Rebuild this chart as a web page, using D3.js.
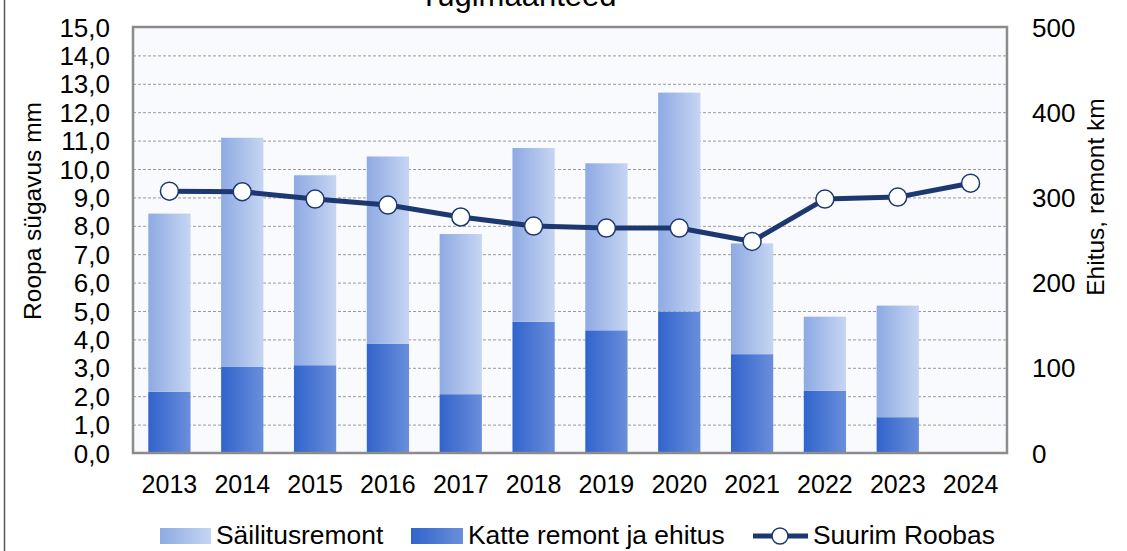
<!DOCTYPE html>
<html><head><meta charset="utf-8">
<script src="https://cdn.jsdelivr.net/npm/d3@7"></script>
<style>body{margin:0;background:#fff}svg{display:block}text{font-family:"Liberation Sans",Arial,sans-serif;fill:#000}</style>
</head><body>
<svg id="c" width="1127" height="551"></svg>
<script>
const years = ["2013","2014","2015","2016","2017","2018","2019","2020","2021","2022","2023","2024"];
const sailitus = [209,269,223,220,188,204,196,257,130,87,131,0];
const katte = [72,101,103,128,69,154,144,166,116,73,42,0];
const roobas = [9.22,9.2,8.94,8.73,8.31,7.99,7.92,7.92,7.45,8.94,9.01,9.5];
const leftTicks = [0,1,2,3,4,5,6,7,8,9,10,11,12,13,14,15];
const rightTicks = [0,100,200,300,400,500];
const seriesNames = ["Säilitusremont","Katte remont ja ehitus","Suurim Roobas"];
const title = "Tugimaanteed";
const leftTitle = "Roopa sügavus mm";
const rightTitle = "Ehitus, remont km";

const svg = d3.select("#c");
const L=133,R=1007,T=27,B=453;
const x = d3.scaleBand().domain(years).range([L,R]).paddingInner(0.42).paddingOuter(0.21);
const yL = d3.scaleLinear().domain([0,15]).range([B,T]);
const yR = d3.scaleLinear().domain([0,500]).range([B,T]);

const defs = svg.append("defs");
function grad(id,c1,c2){const g=defs.append("linearGradient").attr("id",id).attr("x1","0").attr("x2","1").attr("y1","0").attr("y2","0");
 g.append("stop").attr("offset","0").attr("stop-color",c1);g.append("stop").attr("offset","1").attr("stop-color",c2);}
grad("gLight","#8eaae3","#c6d5f2");
grad("gDark","#3164cc","#6a8edb");

svg.append("line").attr("x1",4.5).attr("x2",4.5).attr("y1",0).attr("y2",551).attr("stroke","#555").attr("stroke-width",1.5);

svg.append("text").attr("x",518).attr("y",6).attr("text-anchor","middle").style("font-size","31px").text(title);

svg.append("rect").attr("x",L).attr("y",T).attr("width",R-L).attr("height",B-T).attr("fill","#f8fafd");

svg.append("g").selectAll("line").data(leftTicks.filter(d=>d>0&&d<15)).join("line")
 .attr("x1",L).attr("x2",R).attr("y1",d=>yL(d)+0.5).attr("y2",d=>yL(d)+0.5)
 .attr("stroke","#9a9a9a").attr("stroke-width",1).attr("stroke-dasharray","3,2");

const stackData = years.map((y,i)=>({year:y,s:sailitus[i],k:katte[i]}));
const stack = d3.stack().keys(["k","s"])(stackData);
const fills = {k:"url(#gDark)",s:"url(#gLight)"};
svg.append("g").selectAll("g").data(stack).join("g").attr("fill",d=>fills[d.key])
 .selectAll("rect").data(d=>d).join("rect")
 .attr("x",d=>x(d.data.year)).attr("width",x.bandwidth())
 .attr("y",d=>yR(d[1])).attr("height",d=>yR(d[0])-yR(d[1]));

svg.append("rect").attr("x",L).attr("y",T).attr("width",R-L).attr("height",B-T).attr("fill","none").attr("stroke","#8c8c8c").attr("stroke-width",2.5);

const cx = d=>x(d)+x.bandwidth()/2;
const line = d3.line().x((d,i)=>cx(years[i])).y(d=>yL(d));
svg.append("path").datum(roobas).attr("d",line).attr("fill","none").attr("stroke","#1d3870").attr("stroke-width",5).attr("stroke-linejoin","round");
svg.append("g").selectAll("circle").data(roobas).join("circle")
 .attr("cx",(d,i)=>cx(years[i])).attr("cy",d=>yL(d)).attr("r",9)
 .attr("fill","#fff").attr("stroke","#1d3870").attr("stroke-width",1.5);

const fmt = d=>d3.format(".1f")(d).replace(".",",");
const axL = d3.axisLeft(yL).tickValues(leftTicks).tickFormat(fmt).tickSize(0).tickPadding(23);
const gL = svg.append("g").attr("transform",`translate(${L},0)`).call(axL);
gL.select(".domain").remove();
gL.selectAll("text").style("font-size","26px").attr("font-family",null).attr("dy","0.35em");
const axR = d3.axisRight(yR).tickValues(rightTicks).tickSize(0).tickPadding(25);
const gR = svg.append("g").attr("transform",`translate(${R},0)`).call(axR);
gR.select(".domain").remove();
gR.selectAll("text").style("font-size","26px").attr("font-family",null).attr("dy","0.35em");
const axX = d3.axisBottom(x).tickSize(0).tickPadding(22);
const gX = svg.append("g").attr("transform",`translate(0,${B})`).call(axX);
gX.select(".domain").remove();
gX.selectAll("text").style("font-size","25px").attr("font-family",null);

svg.append("text").attr("transform","translate(41,211) rotate(-90)").attr("text-anchor","middle").style("font-size","24.5px").text(leftTitle);
svg.append("text").attr("transform","translate(1104,197) rotate(-90)").attr("text-anchor","middle").style("font-size","24.5px").text(rightTitle);

const lfs="26.4px";
const lg = svg.append("g");
lg.append("rect").attr("x",160).attr("y",528).attr("width",51).attr("height",16).attr("fill","url(#gLight)");
lg.append("text").attr("x",216).attr("y",544).style("font-size",lfs).text(seriesNames[0]);
lg.append("rect").attr("x",411).attr("y",528).attr("width",52).attr("height",16).attr("fill","url(#gDark)");
lg.append("text").attr("x",468).attr("y",544).style("font-size",lfs).text(seriesNames[1]);
lg.append("line").attr("x1",753).attr("x2",808).attr("y1",536).attr("y2",536).attr("stroke","#1d3870").attr("stroke-width",5);
lg.append("circle").attr("cx",780).attr("cy",536).attr("r",8).attr("fill","#fff").attr("stroke","#1d3870").attr("stroke-width",1.5);
lg.append("text").attr("x",813).attr("y",544).style("font-size",lfs).text(seriesNames[2]);
</script>
</body></html>
